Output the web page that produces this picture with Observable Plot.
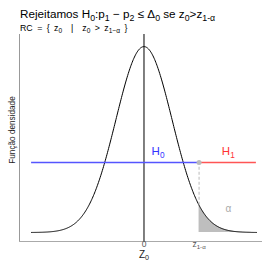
<!DOCTYPE html>
<html><head><meta charset="utf-8">
<script src="https://cdn.jsdelivr.net/npm/d3@7"></script>
<script src="https://cdn.jsdelivr.net/npm/@observablehq/plot@0.6"></script>
<style>
body{margin:0;background:#fff;font-family:"Liberation Sans",Arial,sans-serif;}
#wrap{position:relative;width:262px;height:264px;overflow:hidden}
#chart{position:absolute;left:0;top:0}
.t{position:absolute;white-space:nowrap;color:#000}
#title{left:20px;top:8.1px;font-size:11.7px;line-height:11.7px}
#subtitle{left:20px;top:24.2px;font-size:8.8px;line-height:8.8px;word-spacing:2px}
#ylab{left:13px;top:130px;font-size:8.2px;line-height:8.2px;color:#222;transform:translate(-50%,-50%) rotate(-90deg)}
sub{font-size:75%;vertical-align:-0.3em;line-height:0}
</style></head>
<body><div id="wrap"><div id="chart"></div>
<div id="title" class="t">Rejeitamos H<sub>0</sub>:p<sub>1</sub> − p<sub>2</sub> ≤ Δ<sub>0</sub> se z<sub>0</sub>&gt;z<sub>1-α</sub></div>
<div id="subtitle" class="t">RC = { z<sub>0</sub> &nbsp;|&nbsp; z<sub>0</sub> &gt; z<sub>1−α</sub> }</div>
<div id="ylab" class="t"></div>
</div>
<script>
// distribution parameters / chart values
const mean = [0];
const sd = [1];
const curveRange = [-4, 4];
const zCrit = [1.96];
const boundaryLevel = [0.15];
const tickValues = [0, 1.96];
const tickLabels = ["0", "z_1-α"];
const hypLabels = ["H_0", "H_1"];
const hypX = [0.5, 3];
const alphaLabel = ["α"];
const alphaPos = [3, 0.05];
const axisLabelX = ["Z_0"];
const axisLabelY = ["Função densidade"];

document.getElementById("ylab").textContent = axisLabelY[0];

const pdf = z => Math.exp(-0.5 * ((z - mean[0]) / sd[0]) ** 2) / (sd[0] * Math.sqrt(2 * Math.PI));
const zs = d3.range(curveRange[0], curveRange[1] + 1e-9, 0.02);
const curve = zs.map(z => ({z, d: pdf(z)}));
const tail = curve.filter(p => p.z >= zCrit[0] - 1e-9);

const svg = Plot.plot({
  width: 262, height: 264,
  marginLeft: 19, marginRight: 0, marginTop: 34, marginBottom: 23,
  x: {domain: [-4.43, 4.217], axis: null},
  y: {domain: [-0.0193, 0.4249], axis: null},
  style: {fontFamily: "'Liberation Sans', Arial, sans-serif", background: "white"},
  marks: [
    Plot.frame({anchor: "left", stroke: "#999"}),
    Plot.frame({anchor: "bottom", stroke: "#aaa"}),
    Plot.ruleX(mean, {stroke: "black", strokeWidth: 1}),
    Plot.areaY(tail, {x: "z", y: "d", fill: "#bebebe"}),
    Plot.line(curve, {x: "z", y: "d", stroke: "black", strokeWidth: 1}),
    Plot.ruleX(zCrit, {x: d => d, y1: d => pdf(d), y2: boundaryLevel[0], stroke: "#bbb", strokeDasharray: "3,2"}),
    Plot.ruleY(boundaryLevel, {y: d => d, x1: curveRange[0], x2: zCrit[0], stroke: "#5555ff", strokeWidth: 1.5}),
    Plot.ruleY(boundaryLevel, {y: d => d, x1: zCrit[0], x2: curveRange[1], stroke: "#ff5555", strokeWidth: 1.5}),
    Plot.dot(zCrit, {x: d => d, y: boundaryLevel[0], r: 2.5, fill: "#bbb", stroke: "none"}),
    Plot.text(hypLabels, {x: (d, i) => hypX[i], y: boundaryLevel[0], dy: -11, text: d => d, fill: (d, i) => i === 0 ? "#3333ff" : "#ff3333", fontSize: 11.5, className: "sub"}),
    Plot.text(alphaLabel, {x: alphaPos[0], y: alphaPos[1], text: d => d, fill: "#aaa", fontSize: 10}),
    Plot.text(tickLabels, {x: (d, i) => tickValues[i], frameAnchor: "bottom", dy: 5.5, text: d => d, fill: "#555", fontSize: 8.5, className: "sub"}),
    Plot.text(axisLabelX, {x: mean[0], frameAnchor: "bottom", dy: 16, text: d => d, fill: "#222", fontSize: 10, className: "sub"})
  ]
});

d3.select(svg).selectAll(".sub text").each(function() {
  const s = this.textContent;
  const k = s.indexOf("_");
  if (k < 0) return;
  const el = d3.select(this);
  el.text(null);
  el.append("tspan").text(s.slice(0, k));
  el.append("tspan").attr("dy", "0.3em").attr("font-size", "72%").text(s.slice(k + 1));
});
document.getElementById("chart").appendChild(svg);
</script>
</body></html>
